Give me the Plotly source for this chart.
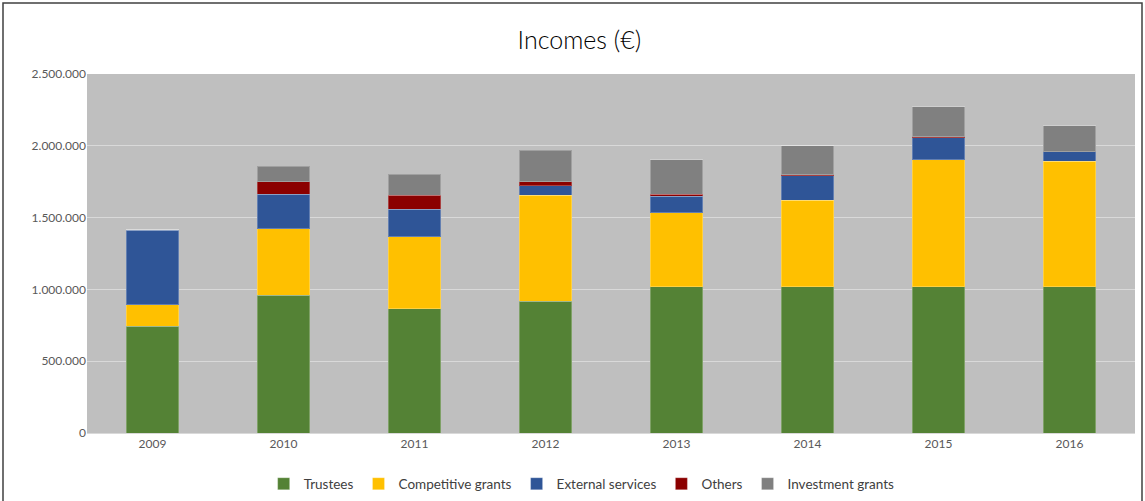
import plotly.graph_objects as go

years = ["2009", "2010", "2011", "2012", "2013", "2014", "2015", "2016"]
trustees = [745000, 961000, 864000, 919000, 1020000, 1020000, 1020000, 1020000]
competitive = [148000, 460000, 503000, 736000, 515000, 601000, 884000, 873000]
external = [518000, 241000, 191000, 67000, 114000, 170000, 151000, 65000]
others = [5000, 86000, 97000, 26000, 12000, 9000, 7000, 0]
investment = [0, 109000, 146000, 220000, 241000, 200000, 209000, 183000]

series = [
    ("Trustees", trustees, "#548235"),
    ("Competitive grants", competitive, "#FFC000"),
    ("External services", external, "#2F5597"),
    ("Others", others, "#8B0000"),
    ("Investment grants", investment, "#808080"),
]

tick_vals = [0, 500000, 1000000, 1500000, 2000000, 2500000]
tick_text = ["0", "500.000", "1.000.000", "1.500.000", "2.000.000", "2.500.000"]

fig = go.Figure()
for name, vals, col in series:
    fig.add_trace(go.Bar(
        x=years, y=vals, name=name,
        marker=dict(color=col, line=dict(color="rgba(255,255,255,0.25)", width=1)),
    ))

W, H = 1145, 501
L, R, T, B = 87, 10, 74, 68
pw, ph = W - L - R, H - T - B

def px(x):
    return (x - L) / pw

def py(y):
    return (H - B - y) / ph

fig.update_layout(
    width=W, height=H,
    barmode="stack",
    bargap=0.6,
    paper_bgcolor="white",
    plot_bgcolor="#BFBFBF",
    margin=dict(l=L, r=R, t=T, b=B),
    font=dict(family="Lato, Open Sans, sans-serif", color="#595959", size=12),
    title=dict(text="Incomes (€)", x=0.506, xref="container", y=0.92, yref="container",
               xanchor="center", yanchor="middle",
               font=dict(size=25, color="#000000", family="Lato Light, Lato, sans-serif", weight=300)),
    xaxis=dict(showgrid=False, showline=True, linecolor="#D9D9D9", linewidth=1,
               ticks="", tickfont=dict(size=12, color="#595959")),
    yaxis=dict(range=[0, 2500000], tickvals=tick_vals, ticktext=tick_text,
               showgrid=True, gridcolor="#D9D9D9", gridwidth=1, zeroline=False,
               ticks="", tickfont=dict(size=12, color="#595959")),
    legend=dict(orientation="h", x=0.508, xref="container", xanchor="center",
                y=0.034, yref="container", yanchor="middle",
                font=dict(size=13.5, color="#404040"), traceorder="normal",
                itemwidth=30),
    showlegend=True,
)

fig.add_shape(type="rect", xref="paper", yref="paper",
              x0=px(3), x1=px(1142), y0=py(520), y1=py(3),
              line=dict(color="#404040", width=1.5), fillcolor="rgba(0,0,0,0)",
              layer="above")

fig.write_html("out.html", config={"displayModeBar": False},
               post_script="document.body.style.margin='0';")
